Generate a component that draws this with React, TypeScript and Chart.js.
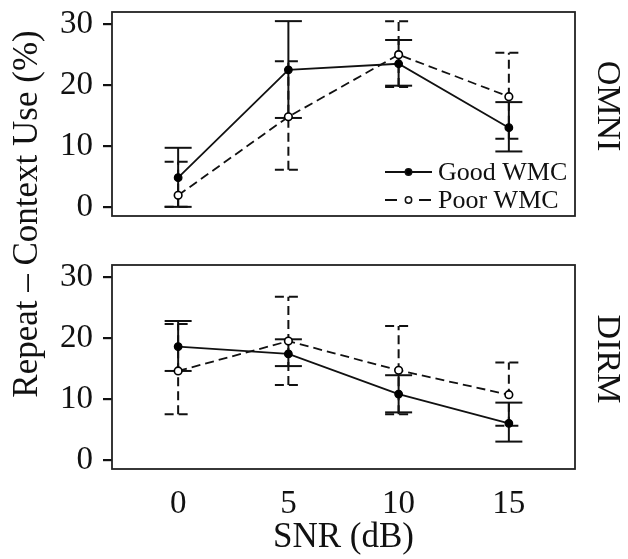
import React, { useEffect, useRef } from "react";
import { Chart, registerables } from "chart.js";

Chart.register(...registerables);

// ---------- data ----------
const snr = [0, 5, 10, 15];
const xTicks = [0, 5, 10, 15];
const yTicks = [0, 10, 20, 30];
const seriesNames = ["Good WMC", "Poor WMC"];
const panelNames = ["OMNI", "DIRM"];
const yTitle = "Repeat – Context Use (%)";
const xTitle = "SNR (dB)";

const omniGood = [4.8, 22.5, 23.5, 13.0];
const omniGoodLow = [0, 14.6, 19.9, 9.1];
const omniGoodHigh = [9.7, 30.5, 27.4, 17.2];
const omniPoor = [1.9, 14.8, 25.0, 18.1];
const omniPoorLow = [0, 6.1, 19.7, 11.2];
const omniPoorHigh = [7.4, 23.9, 30.5, 25.3];

const dirmGood = [18.6, 17.4, 10.8, 6.0];
const dirmGoodLow = [14.6, 15.4, 7.8, 3.0];
const dirmGoodHigh = [22.8, 19.8, 13.9, 9.4];
const dirmPoor = [14.6, 19.5, 14.7, 10.7];
const dirmPoorLow = [7.5, 12.3, 7.5, 5.6];
const dirmPoorHigh = [22.3, 26.8, 22.0, 16.0];

// ---------- styling ----------
const FONT = "'Liberation Serif', 'Times New Roman', 'DejaVu Serif', serif";
const INK = "#111";
const FRAME = "#222";
const DASH = [9, 5];

const W = 628;
const H = 559;

const decorPlugin = {
  id: "decor",
  beforeDatasetsDraw(chart: any) {
    const { ctx, chartArea, scales } = chart;
    const xs = scales.x;
    const ys = scales.y;
    // panel frame
    ctx.save();
    ctx.strokeStyle = FRAME;
    ctx.lineWidth = 1.8;
    ctx.strokeRect(chartArea.left, chartArea.top, chartArea.right - chartArea.left, chartArea.bottom - chartArea.top);
    ctx.restore();
    // error bars
    chart.data.datasets.forEach((ds: any) => {
      ctx.save();
      ctx.strokeStyle = INK;
      ctx.lineWidth = 2;
      ctx.setLineDash(ds.borderDash || []);
      ds.data.forEach((pt: any, j: number) => {
        const px = xs.getPixelForValue(pt.x);
        const y1 = ys.getPixelForValue(ds.errLow[j]);
        const y2 = ys.getPixelForValue(ds.errHigh[j]);
        const hw = 13.5;
        ctx.beginPath();
        ctx.moveTo(px, y1);
        ctx.lineTo(px, y2);
        ctx.stroke();
        ctx.beginPath();
        ctx.moveTo(px - hw, y1);
        ctx.lineTo(px + hw, y1);
        ctx.stroke();
        ctx.beginPath();
        ctx.moveTo(px - hw, y2);
        ctx.lineTo(px + hw, y2);
        ctx.stroke();
      });
      ctx.restore();
    });
  },
  afterDraw(chart: any, _args: any, opts: any) {
    const { ctx, chartArea } = chart;
    // strip label on the right
    ctx.save();
    ctx.fillStyle = INK;
    ctx.font = `34px ${FONT}`;
    ctx.textAlign = "center";
    ctx.textBaseline = "middle";
    ctx.translate(chartArea.right + 32, (chartArea.top + chartArea.bottom) / 2 - 8);
    ctx.rotate(Math.PI / 2);
    ctx.fillText(opts.strip, 0, 0);
    ctx.restore();

    if (opts.yTitle) {
      ctx.save();
      ctx.fillStyle = INK;
      ctx.font = `35px ${FONT}`;
      ctx.textAlign = "center";
      ctx.textBaseline = "middle";
      ctx.translate(28, 214);
      ctx.rotate(-Math.PI / 2);
      ctx.fillText(opts.yTitle, 0, 0);
      ctx.restore();
    }

    if (opts.legend) {
      const x0 = chartArea.right - 190;
      const x1 = chartArea.right - 143;
      const tx = chartArea.right - 137;
      const rowY = [chartArea.bottom - 44, chartArea.bottom - 16];
      chart.data.datasets.forEach((ds: any, i: number) => {
        const yy = rowY[i];
        ctx.save();
        ctx.strokeStyle = INK;
        ctx.lineWidth = 1.9;
        ctx.setLineDash(ds.borderDash && ds.borderDash.length ? [12, 22] : []);
        ctx.beginPath();
        ctx.moveTo(x0, yy);
        ctx.lineTo(x1, yy);
        ctx.stroke();
        ctx.setLineDash([]);
        ctx.beginPath();
        ctx.arc((x0 + x1) / 2, yy, 3.2, 0, Math.PI * 2);
        ctx.fillStyle = ds.pointBackgroundColor;
        ctx.fill();
        ctx.lineWidth = 1.5;
        ctx.stroke();
        ctx.fillStyle = INK;
        ctx.font = `26px ${FONT}`;
        ctx.textAlign = "left";
        ctx.textBaseline = "middle";
        ctx.fillText(ds.label, tx, yy + 1);
        ctx.restore();
      });
    }
  },
};

function makeDatasets(good: number[], gLow: number[], gHigh: number[], poor: number[], pLow: number[], pHigh: number[]) {
  return [
    {
      label: seriesNames[0],
      data: snr.map((x, i) => ({ x, y: good[i] })),
      errLow: gLow,
      errHigh: gHigh,
      borderColor: INK,
      borderWidth: 1.8,
      borderDash: [],
      pointBackgroundColor: "#000",
      pointBorderColor: "#000",
      pointRadius: 3.8,
      pointBorderWidth: 1.2,
    },
    {
      label: seriesNames[1],
      data: snr.map((x, i) => ({ x, y: poor[i] })),
      errLow: pLow,
      errHigh: pHigh,
      borderColor: INK,
      borderWidth: 1.8,
      borderDash: DASH,
      pointBackgroundColor: "#fff",
      pointBorderColor: "#000",
      pointRadius: 3.8,
      pointBorderWidth: 1.6,
    },
  ];
}

function makeConfig(datasets: any[], panel: "top" | "bottom", strip: string): any {
  const isBottom = panel === "bottom";
  return {
    type: "line",
    data: { datasets },
    plugins: [decorPlugin],
    options: {
      responsive: false,
      animation: false,
      devicePixelRatio: 1,
      layout: {
        padding: isBottom
          ? { left: 0, right: 53, top: 265, bottom: 0 }
          : { left: 0, right: 53, top: 12, bottom: 343 },
      },
      plugins: {
        legend: { display: false },
        tooltip: { enabled: false },
        decor: {
          strip,
          legend: !isBottom,
          yTitle: isBottom ? null : yTitle,
        },
      },
      scales: {
        x: {
          type: "linear",
          min: -3,
          max: 18,
          display: isBottom,
          afterBuildTicks: (s: any) => {
            s.ticks = xTicks.map((v) => ({ value: v }));
          },
          afterFit: (s: any) => {
            s.height = isBottom ? 90 : 0;
            s.paddingLeft = 0;
            s.paddingRight = 0;
          },
          grid: { display: false },
          border: { display: false },
          ticks: {
            color: INK,
            padding: 8,
            maxRotation: 0,
            font: { family: FONT, size: 33 },
          },
          title: {
            display: true,
            text: xTitle,
            color: INK,
            padding: { top: 0, bottom: 0 },
            font: { family: FONT, size: 35 },
          },
        },
        y: {
          type: "linear",
          min: -1.5,
          max: 32,
          afterBuildTicks: (s: any) => {
            s.ticks = yTicks.map((v) => ({ value: v }));
          },
          afterFit: (s: any) => {
            s.width = 112;
            s.paddingTop = 0;
            s.paddingBottom = 0;
          },
          grid: {
            display: true,
            drawOnChartArea: false,
            drawTicks: true,
            tickLength: 9,
            color: INK,
            lineWidth: 2.2,
          },
          border: { display: false },
          ticks: {
            color: INK,
            padding: 10,
            font: { family: FONT, size: 33 },
          },
        },
      },
    },
  };
}

export default function App() {
  const topRef = useRef<HTMLCanvasElement | null>(null);
  const botRef = useRef<HTMLCanvasElement | null>(null);

  useEffect(() => {
    const top = new Chart(
      topRef.current as HTMLCanvasElement,
      makeConfig(makeDatasets(omniGood, omniGoodLow, omniGoodHigh, omniPoor, omniPoorLow, omniPoorHigh), "top", panelNames[0])
    );
    const bot = new Chart(
      botRef.current as HTMLCanvasElement,
      makeConfig(makeDatasets(dirmGood, dirmGoodLow, dirmGoodHigh, dirmPoor, dirmPoorLow, dirmPoorHigh), "bottom", panelNames[1])
    );
    return () => {
      top.destroy();
      bot.destroy();
    };
  }, []);

  const canvasStyle: React.CSSProperties = { position: "absolute", left: 0, top: 0, width: W, height: H, display: "block" };

  return (
    <div style={{ position: "fixed", left: 0, top: 0, width: W, height: H, background: "#fff" }}>
      <canvas ref={botRef} width={W} height={H} style={canvasStyle} />
      <canvas ref={topRef} width={W} height={H} style={canvasStyle} />
    </div>
  );
}
